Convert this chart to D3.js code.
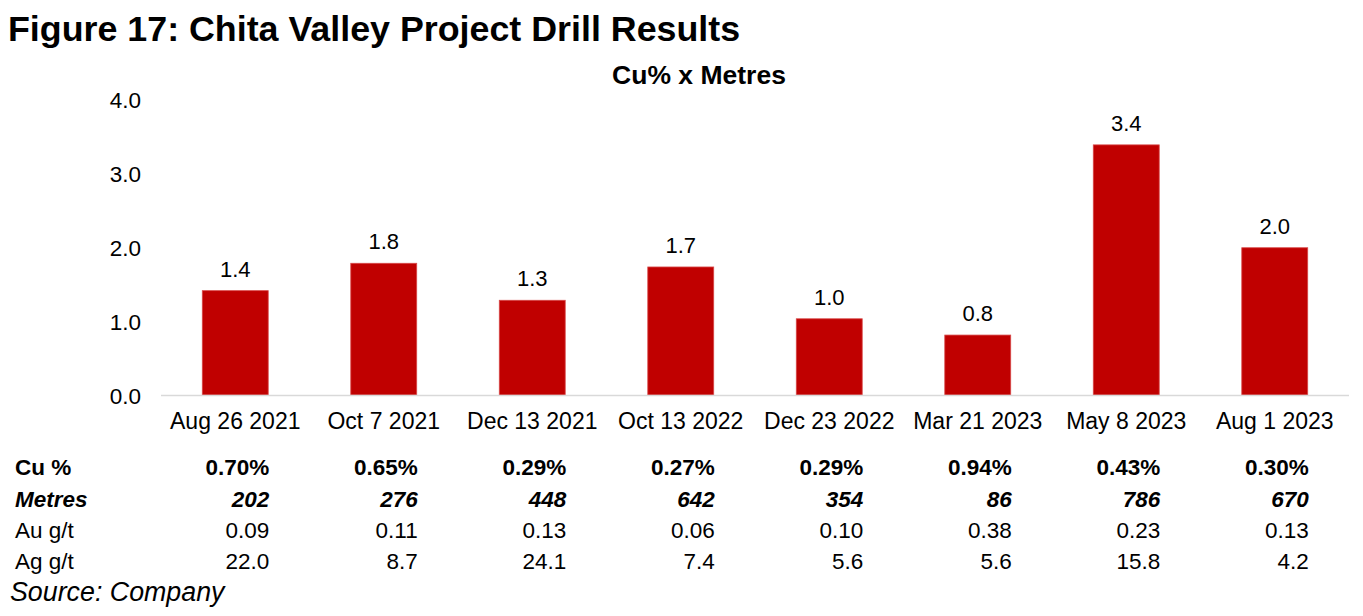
<!DOCTYPE html>
<html>
<head>
<meta charset="utf-8">
<script src="https://cdn.jsdelivr.net/npm/d3@7"></script>
<style>
  body { margin: 0; background: #fff; }
  text { font-family: "Liberation Sans", Arial, sans-serif; fill: #000; }
</style>
</head>
<body>
<script>
// chart data
const dates = ["Aug 26 2021", "Oct 7 2021", "Dec 13 2021", "Oct 13 2022",
               "Dec 23 2022", "Mar 21 2023", "May 8 2023", "Aug 1 2023"];
const cuMetres = [1.41, 1.78, 1.28, 1.73, 1.03, 0.81, 3.38, 1.99];
const yTicks = [0, 1, 2, 3, 4];

// table under the chart
const rowNames = ["Cu %", "Metres", "Au g/t", "Ag g/t"];
const cuPct  = ["0.70%", "0.65%", "0.29%", "0.27%", "0.29%", "0.94%", "0.43%", "0.30%"];
const metres = ["202", "276", "448", "642", "354", "86", "786", "670"];
const auGt   = ["0.09", "0.11", "0.13", "0.06", "0.10", "0.38", "0.23", "0.13"];
const agGt   = ["22.0", "8.7", "24.1", "7.4", "5.6", "5.6", "15.8", "4.2"];

const W = 1363, H = 616;
const plotLeft = 161, plotRight = 1349, plotTop = 99, base = 395;

const svg = d3.select("body").append("svg")
    .attr("width", W)
    .attr("height", H);

const x = d3.scaleBand()
    .domain(dates)
    .range([plotLeft, plotRight])
    .paddingInner(0.556)
    .paddingOuter(0.278);

const y = d3.scaleLinear()
    .domain([0, 4])
    .range([base, plotTop]);

// title + subtitle
svg.append("text")
    .attr("x", 8).attr("y", 41)
    .style("font-size", "35.8px")
    .style("font-weight", "bold")
    .text("Figure 17: Chita Valley Project Drill Results");

svg.append("text")
    .attr("x", 699).attr("y", 84)
    .attr("text-anchor", "middle")
    .style("font-size", "26.5px")
    .style("font-weight", "bold")
    .text("Cu% x Metres");

// y axis
const yAxis = svg.append("g")
    .attr("transform", "translate(" + plotLeft + ",0)")
    .call(d3.axisLeft(y).tickValues(yTicks).tickFormat(d3.format(".1f")).tickSize(0).tickPadding(20));
yAxis.select(".domain").remove();
yAxis.selectAll("text")
    .style("font-size", "22.5px")
    .attr("dy", "0.36em")
    .style("font-family", "'Liberation Sans', Arial, sans-serif");

// bars
svg.selectAll(".bar")
    .data(dates)
    .enter().append("rect")
    .attr("class", "bar")
    .attr("x", d => x(d))
    .attr("width", x.bandwidth())
    .attr("y", (d, i) => y(cuMetres[i]))
    .attr("height", (d, i) => base - y(cuMetres[i]))
    .style("fill", "#C00000")
    .style("stroke", "#D84848")
    .style("stroke-width", 0.8);

// value labels
svg.selectAll(".val")
    .data(dates)
    .enter().append("text")
    .attr("class", "val")
    .attr("x", d => x(d) + x.bandwidth() / 2)
    .attr("y", (d, i) => y(cuMetres[i]) - 14)
    .attr("text-anchor", "middle")
    .style("font-size", "22px")
    .text((d, i) => d3.format(".1f")(cuMetres[i]));

// baseline
svg.append("line")
    .attr("x1", plotLeft).attr("x2", plotRight)
    .attr("y1", base + 0.5).attr("y2", base + 0.5)
    .style("stroke", "#D9D9D9")
    .style("stroke-width", 1.5);

// category labels
const xAxis = svg.append("g")
    .attr("transform", "translate(0," + base + ")")
    .call(d3.axisBottom(x).tickSize(0).tickPadding(18));
xAxis.select(".domain").remove();
xAxis.selectAll("text")
    .style("font-size", "23px")
    .attr("dy", "0.71em")
    .style("font-family", "'Liberation Sans', Arial, sans-serif");

// table rows
const rows = [
    {name: rowNames[0], vals: cuPct,  weight: "bold",   fstyle: "normal", y: 475},
    {name: rowNames[1], vals: metres, weight: "bold",   fstyle: "italic", y: 507},
    {name: rowNames[2], vals: auGt,   weight: "normal", fstyle: "normal", y: 538},
    {name: rowNames[3], vals: agGt,   weight: "normal", fstyle: "normal", y: 569}
];

rows.forEach(r => {
    svg.append("text")
        .attr("x", 15).attr("y", r.y)
        .style("font-size", "22.5px")
        .style("font-weight", r.weight)
        .style("font-style", r.fstyle)
        .text(r.name);

    svg.selectAll(null)
        .data(r.vals)
        .enter().append("text")
        .attr("x", (d, i) => x(dates[i]) + x.bandwidth() + 1)
        .attr("y", r.y)
        .attr("text-anchor", "end")
        .style("font-size", "22.5px")
        .style("font-weight", r.weight)
        .style("font-style", r.fstyle)
        .text(d => d);
});

svg.append("text")
    .attr("x", 10).attr("y", 601)
    .style("font-size", "26.8px")
    .style("font-style", "italic")
    .text("Source: Company");
</script>
</body>
</html>
